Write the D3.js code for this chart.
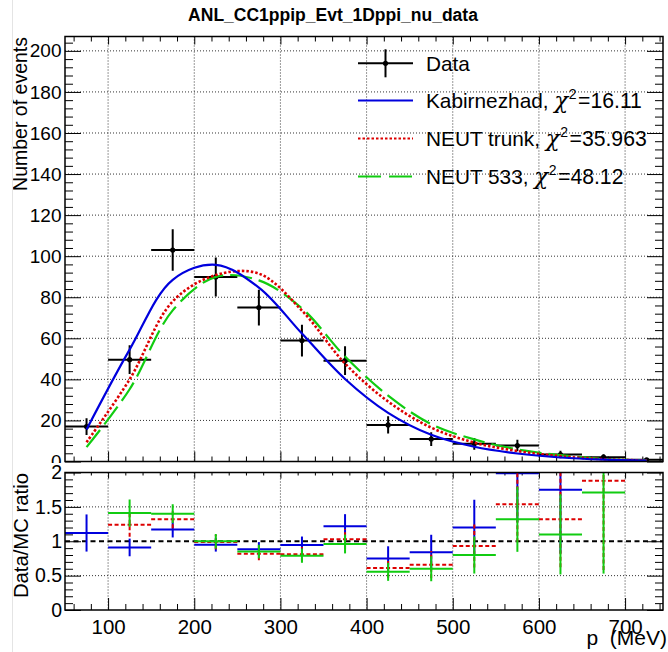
<!DOCTYPE html>
<html><head><meta charset="utf-8">
<script src="https://cdn.jsdelivr.net/npm/d3@7"></script>
<style>
body{margin:0;background:#fff}
svg{display:block}
text{font-family:"Liberation Sans",Arial,Helvetica,sans-serif}
</style>
</head><body>
<svg id="c" width="668" height="652"></svg>
<script>
// ---------------- data ----------------
const chartTitle = "ANL_CC1ppip_Evt_1Dppi_nu_data";
const binCenters = [75,125,175,225,275,325,375,425,475,525,575,625,675,725];
const binWidth = 50;
const dataVals = [17, 49.6, 103, 89.9, 75, 58.9, 49.1, 17.8, 10.9, 8.6, 7.8, 3.4, 2.1, 0.8];
const dataErr  = [4.1, 7.0, 10.1, 9.5, 8.7, 7.7, 7.0, 4.2, 3.3, 2.9, 2.8, 1.8, 1.45, 0.9];
const kabirnezhad = [15.6, 54.5, 88.5, 95.8, 84.7, 62.3, 40.2, 23.7, 13.0, 7.2, 3.9, 1.94, 0.9, 0.4];
const neutTrunk   = [9.4, 40.0, 78.0, 90.8, 91.5, 73.5, 47.7, 29.2, 16.5, 9.2, 5.1, 2.6, 1.1, 0.5];
const neut533     = [7.0, 35.2, 73.6, 89.9, 88.2, 74.6, 51.1, 32.1, 18.2, 10.75, 5.9, 3.1, 1.23, 0.6];
// Data/MC ratios as shown in the lower pad (null = not drawn)
const ratioKabir = [1.12, 0.91, 1.17, 0.95, 0.885, 0.945, 1.22, 0.75, 0.84, 1.2, 1.99, 1.75, null, null];
const ratioTrunk = [null, 1.24, 1.32, 0.99, 0.82, 0.81, 1.03, 0.61, 0.66, 0.93, 1.54, 1.32, 1.88, null];
const ratio533   = [null, 1.41, 1.40, 1.00, 0.85, 0.79, 0.96, 0.555, 0.60, 0.80, 1.32, 1.10, 1.71, null];
const legendLabels = ["Data", "Kabirnezhad, ", "NEUT trunk, ", "NEUT 533, "];
const chi2Labels = [null, "=16.11", "=35.963", "=48.12"];
const xMajorTicks = [100,200,300,400,500,600,700];
const yUpperTicks = [0,20,40,60,80,100,120,140,160,180,200];
const yLowerTicks = [0,0.5,1,1.5,2];
const xTitle = "p\u00a0\u00a0(MeV)";
const yUpperTitle = "Number of events";
const yLowerTitle = "Data/MC ratio";

// ---------------- layout ----------------
const svg = d3.select("#c");
const FONT = '"Liberation Sans",Arial,Helvetica,sans-serif';
const fL = 65, fR = 663, uT = 36.5, uB = 461.5, lT = 472.5, lB = 610;
const x = d3.scaleLinear().domain([50, 744]).range([fL, fR]);
const yU = d3.scaleLinear().domain([0, 207]).range([uB, uT]);
const yL = d3.scaleLinear().domain([0, 2]).range([lB, lT]);
const BLUE = "#0000dd", RED = "#dd0000", GREEN = "#11cc11";

const defs = svg.append("defs");
defs.append("clipPath").attr("id","cu").append("rect").attr("x",fL).attr("y",uT).attr("width",fR-fL).attr("height",uB-uT);
defs.append("clipPath").attr("id","cl").append("rect").attr("x",fL).attr("y",lT).attr("width",fR-fL).attr("height",lB-lT);

svg.append("rect").attr("width",668).attr("height",652).attr("fill","#fff");

svg.append("text").attr("x",333).attr("y",21).attr("text-anchor","middle")
  .attr("font-weight","bold").attr("font-size",17.5).text(chartTitle);

function minorVals(lo, hi, step, majorStep){
  const out=[]; for(let v=lo; v<=hi+1e-9; v+=step){ const r=Math.round(v*1000)/1000; if(Math.abs(r/majorStep-Math.round(r/majorStep))>1e-6) out.push(r);} return out;
}
function styleAxis(g, fs){
  g.select(".domain").remove();
  g.selectAll(".tick line").attr("stroke","#000").attr("stroke-width",1);
  g.attr("font-family",FONT).attr("font-size",fs);
  g.selectAll(".tick text").attr("fill","#000");
}
function grid(g, ys, yScale, top, bot){
  g.selectAll(null).data(xMajorTicks).join("line")
    .attr("x1",d=>x(d)).attr("x2",d=>x(d)).attr("y1",top).attr("y2",bot)
    .attr("stroke","#333").attr("stroke-width",1).attr("stroke-dasharray","1 2");
  g.selectAll(null).data(ys).join("line")
    .attr("x1",fL).attr("x2",fR).attr("y1",d=>yScale(d)).attr("y2",d=>yScale(d))
    .attr("stroke","#333").attr("stroke-width",1).attr("stroke-dasharray","1 2");
}

// ---------------- upper pad ----------------
const up = svg.append("g");
grid(up, yUpperTicks.filter(d=>d>0), yU, uT, uB);

const xMinor = minorVals(60, 740, 20, 100);
const aL = up.append("g").attr("transform",`translate(${fL},0)`)
  .call(d3.axisLeft(yU).tickValues(yUpperTicks).tickSize(-16).tickPadding(3.5).tickFormat(d3.format("d")));
styleAxis(aL, 19);
styleAxis(up.append("g").attr("transform",`translate(${fL},0)`)
  .call(d3.axisLeft(yU).tickValues(minorVals(4,204,4,20)).tickSize(-8).tickFormat("")),19);
styleAxis(up.append("g").attr("transform",`translate(${fR},0)`)
  .call(d3.axisRight(yU).tickValues(yUpperTicks).tickSize(-16).tickFormat("")),19);
styleAxis(up.append("g").attr("transform",`translate(${fR},0)`)
  .call(d3.axisRight(yU).tickValues(minorVals(4,204,4,20)).tickSize(-8).tickFormat("")),19);
styleAxis(up.append("g").attr("transform",`translate(0,${uB})`)
  .call(d3.axisBottom(x).tickValues(xMajorTicks).tickSize(-10).tickFormat("")),19);
styleAxis(up.append("g").attr("transform",`translate(0,${uB})`)
  .call(d3.axisBottom(x).tickValues(xMinor).tickSize(-5).tickFormat("")),19);
styleAxis(up.append("g").attr("transform",`translate(0,${uT})`)
  .call(d3.axisTop(x).tickValues(xMajorTicks).tickSize(-8).tickFormat("")),19);
styleAxis(up.append("g").attr("transform",`translate(0,${uT})`)
  .call(d3.axisTop(x).tickValues(xMinor).tickSize(-5).tickFormat("")),19);

const pts = binCenters.map((c,i)=>({c, v:dataVals[i], e:dataErr[i]}));
const dg = up.append("g").attr("clip-path","url(#cu)");
dg.selectAll(null).data(pts).join("line")
  .attr("x1",d=>x(d.c-binWidth/2)).attr("x2",d=>x(d.c+binWidth/2))
  .attr("y1",d=>yU(d.v)).attr("y2",d=>yU(d.v)).attr("stroke","#000").attr("stroke-width",2);
dg.selectAll(null).data(pts).join("line")
  .attr("x1",d=>x(d.c)).attr("x2",d=>x(d.c))
  .attr("y1",d=>yU(Math.max(0,d.v-d.e))).attr("y2",d=>yU(d.v+d.e)).attr("stroke","#000").attr("stroke-width",2);
dg.selectAll(null).data(pts).join("circle")
  .attr("cx",d=>x(d.c)).attr("cy",d=>yU(d.v)).attr("r",2.6).attr("fill","#000");

const lineU = d3.line().x(d=>x(d[0])).y(d=>yU(d[1])).curve(d3.curveCatmullRom.alpha(0.5));
const cg = up.append("g").attr("clip-path","url(#cu)").attr("fill","none");
cg.append("path").attr("d", lineU(binCenters.map((c,i)=>[c,neut533[i]])))
  .attr("stroke",GREEN).attr("stroke-width",2.2).attr("stroke-dasharray","22 7");
cg.append("path").attr("d", lineU(binCenters.map((c,i)=>[c,neutTrunk[i]])))
  .attr("stroke",RED).attr("stroke-width",2.6).attr("stroke-dasharray","2.5 2");
cg.append("path").attr("d", lineU(binCenters.map((c,i)=>[c,kabirnezhad[i]])))
  .attr("stroke",BLUE).attr("stroke-width",2.2);

up.append("rect").attr("x",fL).attr("y",uT).attr("width",fR-fL).attr("height",uB-uT)
  .attr("fill","none").attr("stroke","#000").attr("stroke-width",1.5);

svg.append("text").attr("transform",`translate(27,37) rotate(-90)`).attr("text-anchor","end")
  .attr("font-size",19.5).text(yUpperTitle);

// legend
const lg = svg.append("g");
const rowY = [63.3, 100.5, 138.5, 176.5];
const lx1 = 358, lx2 = 413, tx = 426;
lg.append("line").attr("x1",lx1).attr("x2",lx2).attr("y1",rowY[0]).attr("y2",rowY[0]).attr("stroke","#000").attr("stroke-width",2);
lg.append("line").attr("x1",(lx1+lx2)/2).attr("x2",(lx1+lx2)/2).attr("y1",rowY[0]-14).attr("y2",rowY[0]+14).attr("stroke","#000").attr("stroke-width",2);
lg.append("circle").attr("cx",(lx1+lx2)/2).attr("cy",rowY[0]).attr("r",2.6).attr("fill","#000");
lg.append("line").attr("x1",lx1).attr("x2",lx2).attr("y1",rowY[1]).attr("y2",rowY[1]).attr("stroke",BLUE).attr("stroke-width",2.2);
lg.append("line").attr("x1",lx1).attr("x2",lx2).attr("y1",rowY[2]).attr("y2",rowY[2]).attr("stroke",RED).attr("stroke-width",2).attr("stroke-dasharray","2.5 2");
lg.append("line").attr("x1",lx1).attr("x2",lx2).attr("y1",rowY[3]).attr("y2",rowY[3]).attr("stroke",GREEN).attr("stroke-width",2.2).attr("stroke-dasharray","23 8");
legendLabels.forEach((lab,i)=>{
  const t = lg.append("text").attr("x",tx).attr("y",rowY[i]+7.3).attr("font-size",20.8);
  t.append("tspan").text(lab);
  if(chi2Labels[i]){
    t.append("tspan").attr("font-size",23).attr("font-family","DejaVu Serif").attr("font-style","italic").text("χ");
    t.append("tspan").attr("font-size",14).attr("dx",0.5).attr("dy",-8.5).text("2");
    t.append("tspan").attr("dx",1.5).attr("dy",8.5).attr("font-size",21.2).text(chi2Labels[i]);
  }
});

// ---------------- lower pad ----------------
const lo = svg.append("g");
lo.append("rect").attr("x",0).attr("y",463).attr("width",668).attr("height",189).attr("fill","#fff");
grid(lo, [0.5,1.5], yL, lT, lB);

const aLL = lo.append("g").attr("transform",`translate(${fL},0)`)
  .call(d3.axisLeft(yL).tickValues(yLowerTicks).tickSize(-16).tickPadding(3).tickFormat(d3.format("~g")));
styleAxis(aLL, 19.5);
const yLMinor = minorVals(0.1,1.9,0.1,0.5);
styleAxis(lo.append("g").attr("transform",`translate(${fL},0)`)
  .call(d3.axisLeft(yL).tickValues(yLMinor).tickSize(-8).tickFormat("")),19);
styleAxis(lo.append("g").attr("transform",`translate(${fR},0)`)
  .call(d3.axisRight(yL).tickValues(yLowerTicks).tickSize(-16).tickFormat("")),19);
styleAxis(lo.append("g").attr("transform",`translate(${fR},0)`)
  .call(d3.axisRight(yL).tickValues(yLMinor).tickSize(-8).tickFormat("")),19);
const aB = lo.append("g").attr("transform",`translate(0,${lB})`)
  .call(d3.axisBottom(x).tickValues(xMajorTicks).tickSize(-12).tickPadding(9.5).tickFormat(d3.format("d")));
styleAxis(aB, 20.5);
styleAxis(lo.append("g").attr("transform",`translate(0,${lB})`)
  .call(d3.axisBottom(x).tickValues(xMinor).tickSize(-6).tickFormat("")),19);
styleAxis(lo.append("g").attr("transform",`translate(0,${lT})`)
  .call(d3.axisTop(x).tickValues(xMajorTicks).tickSize(-6).tickFormat("")),19);
styleAxis(lo.append("g").attr("transform",`translate(0,${lT})`)
  .call(d3.axisTop(x).tickValues(xMinor).tickSize(-3).tickFormat("")),19);

lo.append("line").attr("x1",fL).attr("x2",fR).attr("y1",yL(1)).attr("y2",yL(1))
  .attr("stroke","#000").attr("stroke-width",2).attr("stroke-dasharray","5 3.5");

const rg = lo.append("g").attr("clip-path","url(#cl)");
[[ratioKabir,BLUE,null],[ratioTrunk,RED,"4 2.5"],[ratio533,GREEN,null]].forEach(([arr,col,dash])=>{
  const rp = binCenters.map((c,i)=>({c, r:arr[i], e: arr[i]==null?0:arr[i]*dataErr[i]/dataVals[i]})).filter(d=>d.r!=null);
  const g = rg.append("g").attr("stroke",col).attr("stroke-width",2).attr("stroke-dasharray",dash);
  g.selectAll(null).data(rp).join("line")
    .attr("x1",d=>x(d.c-binWidth/2)).attr("x2",d=>x(d.c+binWidth/2))
    .attr("y1",d=>yL(d.r)).attr("y2",d=>yL(d.r));
  g.selectAll(null).data(rp).join("line")
    .attr("x1",d=>x(d.c)).attr("x2",d=>x(d.c))
    .attr("y1",d=>yL(d.r-d.e)).attr("y2",d=>yL(d.r+d.e));
});

lo.append("rect").attr("x",fL).attr("y",lT).attr("width",fR-fL).attr("height",lB-lT)
  .attr("fill","none").attr("stroke","#000").attr("stroke-width",1.5);

svg.append("text").attr("transform",`translate(28,473) rotate(-90)`).attr("text-anchor","end")
  .attr("font-size",20.3).text(yLowerTitle);
svg.append("text").attr("x",667).attr("y",645).attr("text-anchor","end")
  .attr("font-size",21).text(xTitle);

svg.append("line").attr("x1",12.5).attr("x2",12.5).attr("y1",0).attr("y2",652)
  .attr("stroke","#e4e4e4").attr("stroke-width",1);
</script>
</body></html>
